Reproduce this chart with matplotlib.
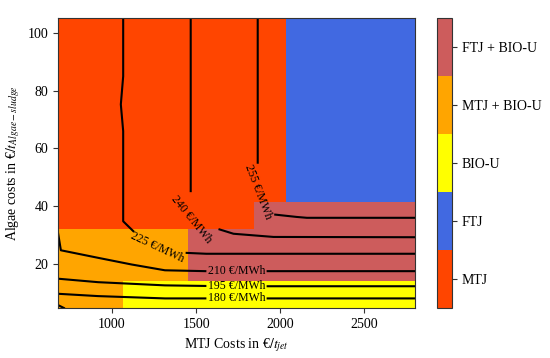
import numpy as np
import matplotlib
matplotlib.use("Agg")
import matplotlib.pyplot as plt
from matplotlib.colors import ListedColormap, BoundaryNorm

plt.rcParams['font.family'] = ['Liberation Serif', 'DejaVu Serif']
plt.rcParams['mathtext.fontset'] = 'stix'

# cheapest option per cost region
option_names = ['MTJ', 'FTJ', 'BIO-U', 'MTJ + BIO-U', 'FTJ + BIO-U']
option_colors = ['orangered', 'royalblue', 'yellow', 'orange', 'indianred']
mtj_edges = [680, 1067, 1454, 1841, 2036, 2800]
algae_edges = [5, 14.3, 32.3, 41.4, 105]
region_codes = [
    [3, 2, 2, 2, 2],
    [3, 3, 4, 4, 4],
    [0, 0, 0, 4, 4],
    [0, 0, 0, 0, 1],
]

# iso-cost lines in EUR/MWh, nan = gap for the inline label
c165_x = [680, 715]
c165_y = [6.0, 5.0]
c180_x = [680, 918, 1315, 1555, np.nan, 1925, 2800]
c180_y = [9.9, 9.1, 8.3, 8.3, np.nan, 8.3, 8.3]
c195_x = [680, 918, 1315, 1555, np.nan, 1925, 2800]
c195_y = [15.1, 13.9, 12.8, 12.6, np.nan, 12.5, 12.5]
c210_x = [680, 697, 918, 1117, 1315, 1555, np.nan, 1925, 2800]
c210_y = [30.9, 24.9, 22.3, 20.0, 18.0, 17.7, np.nan, 17.7, 17.7]
c225_x = [1067, 1067, 1053, 1067, 1067, 1127, np.nan, 1444, 1560, 2800]
c225_y = [105, 84.9, 75.2, 66, 34.9, 31.5, np.nan, 24.0, 23.7, 23.7]
c240_x = [1468, 1468, np.nan, 1639, 1722, 1960, 2800]
c240_y = [105, 45.3, np.nan, 32.1, 30.6, 29.5, 29.4]
c255_x = [1866, 1866, np.nan, 1970, 2097, 2158, 2800]
c255_y = [105, 55.1, np.nan, 37.2, 36.4, 36.1, 36.1]

label_levels = [180, 195, 210, 225, 240, 255]
label_x = [1740, 1740, 1740, 1270, 1472, 1868]
label_y = [8.3, 12.5, 17.7, 25.8, 35.5, 45.0]
label_rot = [0, 0, 0, -25, -51, -69]

fig = plt.figure(figsize=(5.5, 3.58), dpi=100)
ax = fig.add_axes([0.1055, 0.1397, 0.649, 0.81])
cax = fig.add_axes([0.7945, 0.1397, 0.0273, 0.81])

cmap = ListedColormap(option_colors)
norm = BoundaryNorm(np.arange(-0.5, 5.5, 1), cmap.N)
mesh = ax.pcolormesh(mtj_edges, algae_edges, np.array(region_codes), cmap=cmap, norm=norm)

for xs, ys in [(c165_x, c165_y), (c180_x, c180_y), (c195_x, c195_y), (c210_x, c210_y),
               (c225_x, c225_y), (c240_x, c240_y), (c255_x, c255_y)]:
    ax.plot(xs, ys, color='black', linewidth=1.5)

for lev, lx, ly, rot in zip(label_levels, label_x, label_y, label_rot):
    ax.text(lx, ly, f'{lev} €/MWh', fontsize=8.5, rotation=rot, rotation_mode='anchor',
            ha='center', va='center', color='black')

ax.set_xlim(680, 2800)
ax.set_ylim(5, 105)
ax.set_xticks([1000, 1500, 2000, 2500])
ax.set_yticks([20, 40, 60, 80, 100])
ax.tick_params(labelsize=10, color='#333333')
for sp in ax.spines.values():
    sp.set_color('#333333')
ax.set_xlabel('MTJ Costs in €$/t_{jet}$', fontsize=10)
ax.set_ylabel('Algae costs in €$/t_{Algae-sludge}$', fontsize=10)

cb = fig.colorbar(mesh, cax=cax, ticks=range(5))
cb.ax.minorticks_off()
cb.ax.set_yticklabels(option_names)
cb.ax.tick_params(labelsize=10, color='#333333')
cb.outline.set_edgecolor('#333333')

fig.savefig('out.png', dpi=100)
